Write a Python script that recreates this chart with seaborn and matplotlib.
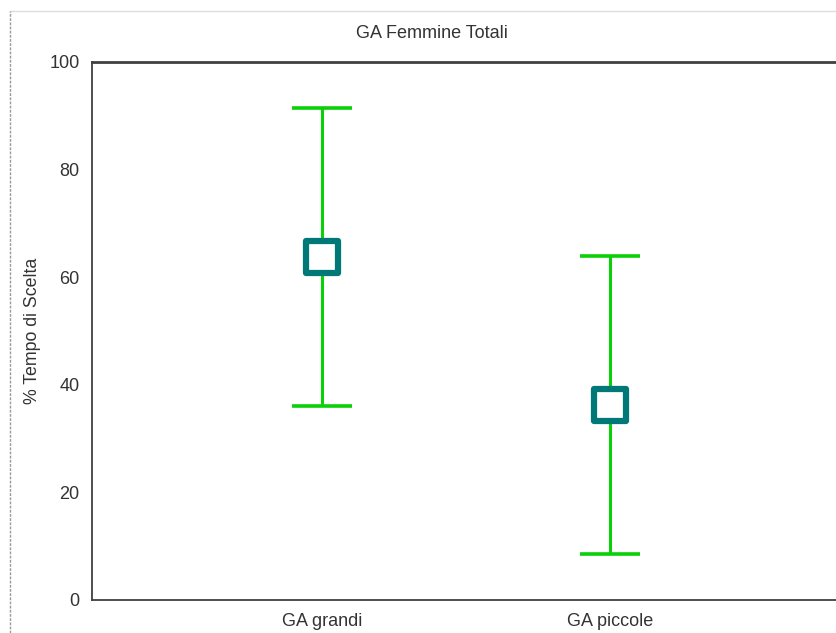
import matplotlib
matplotlib.use("Agg")
import matplotlib.pyplot as plt
import seaborn as sns
import pandas as pd
from matplotlib.lines import Line2D

# dati
gruppi = ['GA grandi', 'GA piccole']
media = [63.7, 36.3]
sup = [91.4, 64.0]
inf = [36.0, 8.5]

data = pd.DataFrame({'gruppo': gruppi, 'media': media, 'sup': sup, 'inf': inf})

sns.set_style('white')
plt.rcParams['font.family'] = ['Liberation Sans', 'DejaVu Sans']

fig = plt.figure(figsize=(8.36, 6.33), dpi=100)
fig.patch.set_facecolor('white')
ax = fig.add_axes([92/836, 33/633, 748/836, 538/633])

err_lo = data['media'] - data['inf']
err_hi = data['sup'] - data['media']
ax.errorbar(range(len(gruppi)), data['media'], yerr=[err_lo, err_hi],
            fmt='none', ecolor='#0ad00a', elinewidth=2.2, capsize=21.5,
            capthick=2.6, zorder=2)

sns.scatterplot(data=data, x='gruppo', y='media', ax=ax, marker='s', s=560,
                facecolor='white', edgecolor='#007878', linewidth=4.5,
                zorder=3, legend=False)

ax.set_xlim(-0.8, 1.8)
ax.set_ylim(0, 100)
ax.set_yticks([0, 20, 40, 60, 80, 100])
ax.set_xticks([0, 1])
ax.set_xticklabels(gruppi)
ax.set_xlabel('')
ax.set_ylabel('% Tempo di Scelta', fontsize=12.8, color='#333333', labelpad=6)
ax.tick_params(direction='in', length=4, width=1, colors='#444444',
               labelcolor='#333333', labelsize=13, pad=9)
for sp in ax.spines.values():
    sp.set_color('#404040')
    sp.set_linewidth(1.3)
ax.spines['top'].set_linewidth(2)

fig.text(432/836, 1 - 33/633, 'GA Femmine Totali', ha='center', va='center',
         fontsize=13, color='#333333')

# cornice esterna
fig.add_artist(Line2D([10/836, 1], [1 - 11/633, 1 - 11/633],
                      color='#dddddd', lw=1))
fig.add_artist(Line2D([10/836, 10/836], [0, 1 - 11/633],
                      color='#999999', lw=1, ls=(0, (2, 1))))

fig.savefig('out.png', dpi=100)
